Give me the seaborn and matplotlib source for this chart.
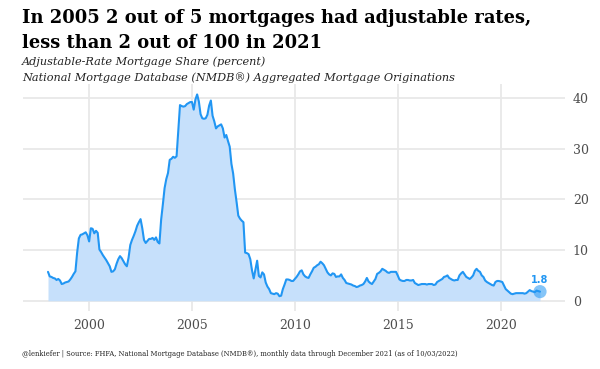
import numpy as np
import pandas as pd
import matplotlib
matplotlib.use("Agg")
import matplotlib.pyplot as plt
import seaborn as sns

# Monthly ARM share (percent), Jan 1998 .. Dec 2021
arm_share = {
    1998: [5.7, 4.8, 4.7, 4.5, 4.4, 4.1, 4.3, 4.0, 3.3, 3.4, 3.6, 3.7],
    1999: [3.8, 4.2, 4.7, 5.3, 5.8, 9.5, 12.3, 13.0, 13.1, 13.3, 13.5, 12.9],
    2000: [11.7, 14.3, 14.2, 13.3, 13.8, 13.4, 10.1, 9.6, 9.0, 8.5, 8.0, 7.4],
    2001: [6.8, 5.7, 5.8, 6.2, 7.3, 8.2, 8.8, 8.4, 7.8, 7.2, 6.8, 8.5],
    2002: [11.0, 12.0, 12.8, 13.7, 14.8, 15.5, 16.1, 14.3, 12.0, 11.4, 11.8, 12.2],
    2003: [12.2, 12.4, 12.0, 12.5, 11.6, 11.3, 16.0, 19.0, 22.2, 24.0, 25.2, 27.8],
    2004: [28.0, 28.4, 28.2, 28.5, 33.4, 38.6, 38.4, 38.3, 38.4, 38.8, 39.0, 39.2],
    2005: [39.2, 37.7, 39.7, 40.7, 39.3, 36.8, 36.0, 35.9, 36.0, 36.7, 38.5, 39.5],
    2006: [36.5, 35.4, 34.0, 34.4, 34.6, 34.8, 34.0, 32.2, 32.7, 31.5, 30.4, 27.0],
    2007: [25.1, 22.0, 19.5, 16.8, 16.2, 15.8, 15.5, 9.5, 9.4, 9.2, 8.2, 6.0],
    2008: [4.4, 6.2, 7.9, 4.9, 4.6, 5.6, 5.2, 3.6, 2.8, 2.3, 1.5, 1.4],
    2009: [1.3, 1.5, 1.4, 0.9, 1.0, 2.3, 3.2, 4.2, 4.2, 4.1, 3.9, 3.9],
    2010: [4.3, 4.7, 5.2, 5.8, 6.0, 5.2, 4.8, 4.6, 4.5, 5.2, 5.8, 6.5],
    2011: [6.7, 7.0, 7.2, 7.7, 7.4, 7.0, 6.3, 5.6, 5.2, 5.0, 5.4, 5.3],
    2012: [4.7, 4.8, 4.8, 5.2, 4.5, 4.1, 3.5, 3.4, 3.3, 3.2, 3.0, 2.9],
    2013: [2.7, 2.8, 3.0, 3.1, 3.3, 3.8, 4.5, 3.8, 3.5, 3.3, 3.8, 4.3],
    2014: [5.3, 5.5, 5.8, 6.3, 6.1, 5.9, 5.6, 5.5, 5.7, 5.7, 5.7, 5.7],
    2015: [5.0, 4.2, 4.0, 3.9, 3.9, 4.1, 4.1, 4.0, 4.0, 4.1, 3.5, 3.3],
    2016: [3.1, 3.2, 3.3, 3.3, 3.3, 3.2, 3.3, 3.3, 3.3, 3.1, 3.2, 3.7],
    2017: [3.9, 4.1, 4.3, 4.7, 4.8, 5.0, 4.5, 4.3, 4.1, 4.0, 4.1, 4.1],
    2018: [5.0, 5.4, 5.7, 5.2, 4.7, 4.5, 4.3, 4.6, 5.0, 5.9, 6.3, 5.9],
    2019: [5.7, 5.0, 4.7, 4.0, 3.7, 3.5, 3.3, 3.1, 3.0, 3.7, 3.9, 3.9],
    2020: [3.8, 3.7, 3.0, 2.3, 2.0, 1.7, 1.4, 1.3, 1.4, 1.5, 1.5, 1.5],
    2021: [1.5, 1.5, 1.4, 1.5, 1.8, 2.1, 1.9, 1.8, 1.7, 2.0, 1.9, 1.8],
}
x_ticks = [2000, 2005, 2010, 2015, 2020]
y_ticks = [0, 10, 20, 30, 40]

title = "In 2005 2 out of 5 mortgages had adjustable rates,\nless than 2 out of 100 in 2021"
subtitle = ("Adjustable-Rate Mortgage Share (percent)\n"
            "National Mortgage Database (NMDB\u00ae) Aggregated Mortgage Originations")
caption = ("@lenkiefer | Source: FHFA, National Mortgage Database (NMDB\u00ae), "
           "monthly data through December 2021 (as of 10/03/2022)")

rows = []
for yr, vals in arm_share.items():
    for m, v in enumerate(vals):
        rows.append({"t": yr + m / 12.0, "share": v})
df = pd.DataFrame(rows)

sns.set_theme(style="white")
plt.rcParams["font.family"] = ["DejaVu Serif"]

line_col = "#2196f3"
fill_col = "#c6e0fb"
grid_col = "#e8e8e8"

fig = plt.figure(figsize=(6.0, 3.69), dpi=100)
ax = fig.add_axes([0.039, 0.157, 0.902, 0.615])

ax.fill_between(df["t"], 0, df["share"], color=fill_col, lw=0, zorder=2)
sns.lineplot(data=df, x="t", y="share", ax=ax, color=line_col, lw=1.5, zorder=3)
last = df.iloc[[-1]]
sns.scatterplot(data=last, x="t", y="share", ax=ax, color=line_col, alpha=0.55,
                s=90, edgecolor="none", zorder=4, legend=False)
ax.annotate(f"{last['share'].iloc[0]:.1f}", (last["t"].iloc[0], last["share"].iloc[0]),
            xytext=(0, 4.5), textcoords="offset points", ha="center", va="bottom",
            color=line_col, fontsize=7, fontweight="bold", family="DejaVu Sans")

xmin, xmax = df["t"].min(), df["t"].max()
span = xmax - xmin
ax.set_xlim(xmin - 0.05 * span, xmax + 0.05 * span)
ymax = df["share"].max()
ax.set_ylim(-0.05 * ymax, ymax * 1.05)

ax.set_xticks(x_ticks)
ax.set_xticklabels([str(v) for v in x_ticks])
ax.set_yticks(y_ticks)
ax.yaxis.tick_right()
ax.tick_params(axis="both", length=0, labelsize=9, colors="#4d4d4d", pad=6)
ax.grid(True, color=grid_col, lw=1.3, zorder=0)
ax.set_axisbelow(True)
for s in ax.spines.values():
    s.set_visible(False)
ax.set_xlabel("")
ax.set_ylabel("")

fig.text(0.037, 0.975, title, ha="left", va="top", fontsize=12.85, fontweight="bold",
         color="black", linespacing=1.45)
fig.text(0.037, 0.846, subtitle, ha="left", va="top", fontsize=8.1, style="italic",
         color="#222222", linespacing=1.5)
fig.text(0.037, 0.04, caption, ha="left", va="center", fontsize=4.9, color="#222222")

fig.savefig("out.png", dpi=100)
